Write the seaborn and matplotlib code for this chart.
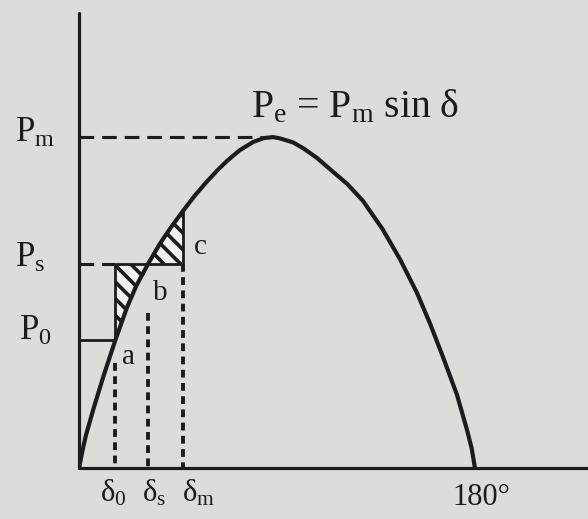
import matplotlib
matplotlib.use("Agg")
import matplotlib.pyplot as plt
import seaborn as sns

# power-angle curve (delta in degrees, P in units of Pm)
delta_curve = [0, 1.5, 3.0, 6.4, 11.0, 16.5, 21.8, 26.0, 31.4, 36.8, 42.0, 47.3,
               52.5, 58.2, 63.0, 67.3, 73.0, 79.1, 84.0, 88.2, 91.4, 97.3, 102.0,
               108.2, 115.5, 122.0, 129.0, 138.0, 146.0, 153.6, 159.5, 165.5,
               171.8, 176.4, 178.5, 180.0]
p_curve = [0, 0.05, 0.095, 0.175, 0.275, 0.386, 0.485, 0.55, 0.617, 0.678, 0.729,
           0.777, 0.822, 0.866, 0.90, 0.928, 0.96, 0.985, 0.997, 1.0, 0.996, 0.984,
           0.966, 0.937, 0.895, 0.858, 0.808, 0.722, 0.630, 0.530, 0.438, 0.335,
           0.222, 0.115, 0.06, 0]

# operating points
delta_0, delta_s, delta_m = 16.5, 31.4, 47.3
p_0, p_s, p_m = 0.386, 0.617, 1.0
delta_peak_dash = 83.0
p_at_delta_m = 0.777

# where the dashed drops start (below the a / b labels)
drop_start_0 = 0.317
drop_start_s = 0.468

point_labels = ["a", "b", "c"]
point_label_xy = [(22.3, 0.335), (36.8, 0.529), (55.0, 0.668)]

ink = "#1c1c1c"
paper = "#dcdcd8"

sns.set_style("white")
plt.rcParams["font.family"] = ["Liberation Serif", "DejaVu Serif"]
plt.rcParams["mathtext.fontset"] = "custom"
plt.rcParams["mathtext.rm"] = "Liberation Serif"
plt.rcParams["mathtext.it"] = "Liberation Serif:italic"
plt.rcParams["hatch.linewidth"] = 2.6
plt.rcParams["hatch.color"] = ink

fig = plt.figure(figsize=(5.88, 5.19), dpi=100, facecolor=paper)
ax = fig.add_axes([79 / 588, 51 / 519, 509 / 588, 455 / 519])
ax.set_facecolor(paper)
ax.set_xlim(0, 231.4)
ax.set_ylim(0, 1.375)

# hatched areas (accelerating area below Ps, decelerating area above Ps)
in_acc = [(d, p) for d, p in zip(delta_curve, p_curve) if delta_0 <= d <= delta_s]
in_dec = [(d, p) for d, p in zip(delta_curve, p_curve) if delta_s <= d <= delta_m]
ax.fill_between([d for d, _ in in_acc], [p for _, p in in_acc], p_s,
                facecolor="#efefec", edgecolor=ink, hatch="\\\\", linewidth=0)
ax.fill_between([d for d, _ in in_dec], p_s, [p for _, p in in_dec],
                facecolor="#efefec", edgecolor=ink, hatch="\\\\", linewidth=0)

# solid construction lines
solid = dict(color=ink, lw=2.0, solid_capstyle="butt")
ax.plot([0, delta_0], [p_0, p_0], **solid)
ax.plot([delta_0, delta_0], [p_0, p_s], **solid)
ax.plot([delta_0, delta_m], [p_s, p_s], **solid)
ax.plot([delta_m, delta_m], [p_s, p_at_delta_m], **solid)

# dashed construction lines
hdash = dict(color=ink, lw=2.2, dashes=(4.8, 2.6), dash_capstyle="butt")
ax.plot([0, delta_peak_dash], [p_m, p_m], **hdash)
ax.plot([0, delta_0], [p_s, p_s], **hdash)
vdash = dict(color=ink, lw=2.8, dashes=(2.0, 1.4), dash_capstyle="butt")
ax.plot([delta_0, delta_0], [drop_start_0, 0], **vdash)
ax.plot([delta_s, delta_s], [drop_start_s, 0], **vdash)
ax.plot([delta_m, delta_m], [p_s, 0], **vdash)

# the power-angle curve
sns.lineplot(x=delta_curve, y=p_curve, ax=ax, color=ink, linewidth=3.0,
             sort=False, estimator=None)
for line in ax.get_lines()[-1:]:
    line.set_solid_joinstyle("round")
    line.set_solid_capstyle("round")

for side in ["top", "right"]:
    ax.spines[side].set_visible(False)
for side in ["left", "bottom"]:
    ax.spines[side].set_linewidth(2.3)
    ax.spines[side].set_color(ink)
    ax.spines[side].set_capstyle("round")
ax.set_xticks([])
ax.set_yticks([])

# labels
ax.text(-29.1, 0.985, r"P$_\mathrm{m}$", fontsize=25, color=ink, ha="left", va="baseline")
ax.text(-29.1, 0.607, r"P$_\mathrm{s}$", fontsize=25, color=ink, ha="left", va="baseline")
ax.text(-27.5, 0.387, r"P$_\mathrm{0}$", fontsize=25, color=ink, ha="left", va="baseline")
ax.text(78.0, 1.060, r"P$_\mathrm{e}$ = P$_\mathrm{m}$ sin δ", fontsize=28.5, color=ink,
        ha="left", va="baseline")
for lab, (x, y) in zip(point_labels, point_label_xy):
    ax.text(x, y, lab, fontsize=21, color=ink, ha="center", va="center")

ax.text(9.5, -0.03, r"δ$_\mathrm{0}$", fontsize=22, color=ink, ha="left", va="top")
ax.text(28.6, -0.03, r"δ$_\mathrm{s}$", fontsize=22, color=ink, ha="left", va="top")
ax.text(46.8, -0.03, r"δ$_\mathrm{m}$", fontsize=22, color=ink, ha="left", va="top")
ax.text(182.7, -0.045, "180°", fontsize=22, color=ink, ha="center", va="top")

fig.savefig("out.png", dpi=100, facecolor=paper)
